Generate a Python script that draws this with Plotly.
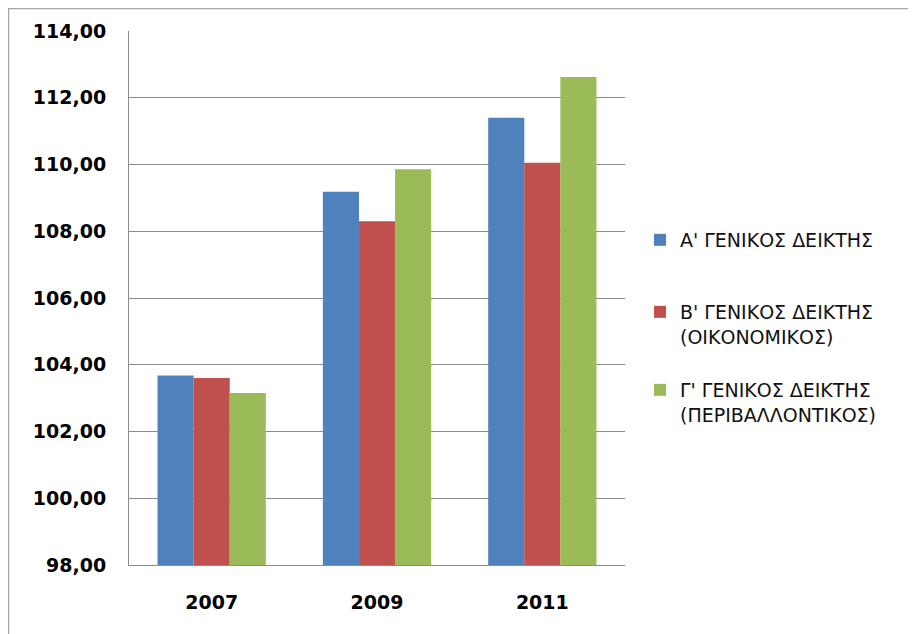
import plotly.graph_objects as go

years = ["2007", "2009", "2011"]
series_names = [
    "Α' ΓΕΝΙΚΟΣ ΔΕΙΚΤΗΣ",
    "Β' ΓΕΝΙΚΟΣ ΔΕΙΚΤΗΣ<br>(ΟΙΚΟΝΟΜΙΚΟΣ)",
    "Γ' ΓΕΝΙΚΟΣ ΔΕΙΚΤΗΣ<br>(ΠΕΡΙΒΑΛΛΟΝΤΙΚΟΣ)",
]
a_values = [103.68, 109.18, 111.40]
b_values = [103.60, 108.30, 110.05]
c_values = [103.15, 109.86, 112.62]
colors = ["#4F81BD", "#C0504D", "#9BBB59"]

# page has an 8px body margin; figure coords = page coords - 8
OFF = 8
W, H = 916 - OFF, 634 - OFF
L, R, T, B = 129 - OFF, 625 - OFF, 31 - OFF, 565 - OFF

def px_x(p):
    return (p - OFF - L) / (R - L)

def px_y(p):
    return (B - (p - OFF)) / (B - T)

legend_ids = ["legend", "legend2", "legend3"]
legend_tops = [221, 293, 371]  # page px of legend box tops

fig = go.Figure()
for i, (name, vals) in enumerate(zip(series_names, [a_values, b_values, c_values])):
    fig.add_trace(go.Bar(
        x=years, y=vals, name=name, marker_color=colors[i],
        marker_line_width=0, legend=legend_ids[i],
    ))

legend_font = dict(size=19, family="DejaVu Sans", color="#111111")
tick_font = dict(size=19, family="DejaVu Sans", color="#000000", weight="bold")

layout_legends = {}
for lid, top in zip(legend_ids, legend_tops):
    layout_legends[lid] = dict(
        x=px_x(640), y=px_y(top), xanchor="left", yanchor="top",
        valign="top", font=legend_font, bgcolor="rgba(0,0,0,0)",
        itemwidth=30,
    )

fig.update_layout(
    width=W, height=H,
    margin=dict(l=L, r=W - R, t=T, b=H - B, pad=0),
    paper_bgcolor="white", plot_bgcolor="white",
    barmode="group", bargap=0.345, bargroupgap=0,
    separators=",.",
    font=dict(family="DejaVu Sans", color="#000000"),
    showlegend=True,
    xaxis=dict(
        type="category", showgrid=False, showline=True,
        linecolor="#8C8C8C", linewidth=1, ticks="",
        tickfont=tick_font, ticklabelstandoff=20,
    ),
    yaxis=dict(
        range=[98, 114], dtick=2, tick0=98, tickformat=".2f",
        showgrid=True, gridcolor="#8C8C8C", gridwidth=1,
        showline=True, linecolor="#8C8C8C", linewidth=1, ticks="",
        tickfont=tick_font, ticklabelstandoff=18, zeroline=False,
    ),
    shapes=[dict(
        type="rect", xref="paper", yref="paper",
        x0=px_x(8.5), x1=px_x(940), y0=px_y(660), y1=px_y(8.5),
        line=dict(color="#A6A6A6", width=1.5), fillcolor="rgba(0,0,0,0)",
        layer="below",
    )],
    **layout_legends,
)

fig.write_html("out.html")
